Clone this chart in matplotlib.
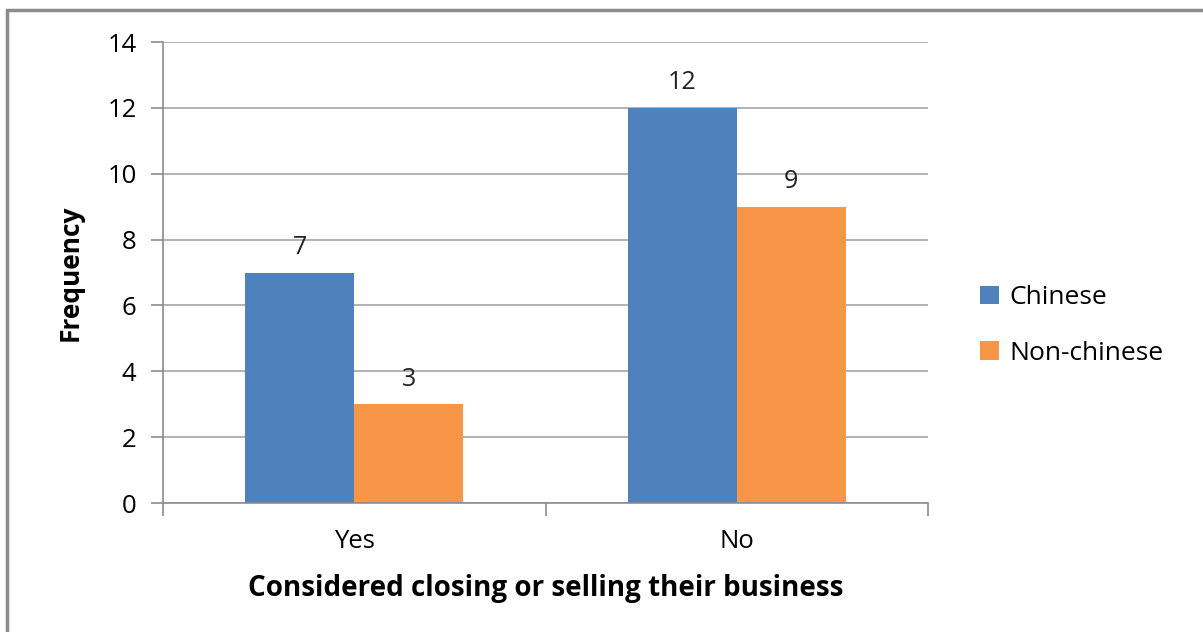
import matplotlib
matplotlib.use('Agg')
import matplotlib.pyplot as plt
import numpy as np
from matplotlib.patches import Rectangle

categories = ['Yes', 'No']
chinese = [7, 12]
non_chinese = [3, 9]
yticks = [0, 2, 4, 6, 8, 10, 12, 14]

plt.rcParams['font.family'] = ['Open Sans', 'DejaVu Sans']

fig = plt.figure(figsize=(12.03, 6.32), dpi=100)
ax = fig.add_axes([0.1355, 0.2041, 0.6359, 0.7294])

# outer chart frame
fig.patches.append(Rectangle((7/1203, -0.1), 1.2, 0.1 + (632-10)/632,
                             transform=fig.transFigure, fill=False,
                             edgecolor='#8c8c8c', linewidth=2.5))

x = np.arange(len(categories))
w = 0.285
b1 = ax.bar(x - w/2, chinese, w, color='#4F81BD', label='Chinese')
b2 = ax.bar(x + w/2, non_chinese, w, color='#F79646', label='Non-chinese')

for bars in (b1, b2):
    for r in bars:
        ax.annotate(str(int(r.get_height())), (r.get_x() + r.get_width()/2, r.get_height()),
                    xytext=(0, 9), textcoords='offset points', ha='center', va='bottom',
                    fontsize=18, color='#222222')

ax.set_xlim(-0.5, 1.5)
ax.set_ylim(0, 14)
ax.set_yticks(yticks)
ax.yaxis.grid(True, color='#a6a6a6', linewidth=1.2)
ax.set_axisbelow(True)
ax.set_xticks([-0.5, 0.5, 1.5])
ax.set_xticklabels([])
ax.set_xticks(x, minor=True)
ax.set_xticklabels(categories, minor=True)
ax.tick_params(axis='x', which='minor', length=0, pad=19, labelsize=18.5)
ax.tick_params(axis='x', which='major', length=9, color='#8c8c8c', width=1.2)
ax.tick_params(axis='y', length=9, color='#8c8c8c', width=1.2, labelsize=18.5, pad=10)
for s in ['top', 'right']:
    ax.spines[s].set_visible(False)
for s in ['left', 'bottom']:
    ax.spines[s].set_color('#8c8c8c')
    ax.spines[s].set_linewidth(1.2)

ax.set_ylabel('Frequency', fontsize=19, fontweight='bold', labelpad=17)
ax.set_xlabel('Considered closing or selling their business', fontsize=20,
              fontweight='bold', labelpad=14)

ax.legend(loc='center left', bbox_to_anchor=(1.037, 0.385), frameon=False,
          fontsize=19, handlelength=0.7, handleheight=0.7, labelspacing=1.15,
          handletextpad=0.4)

plt.savefig('out.png')
